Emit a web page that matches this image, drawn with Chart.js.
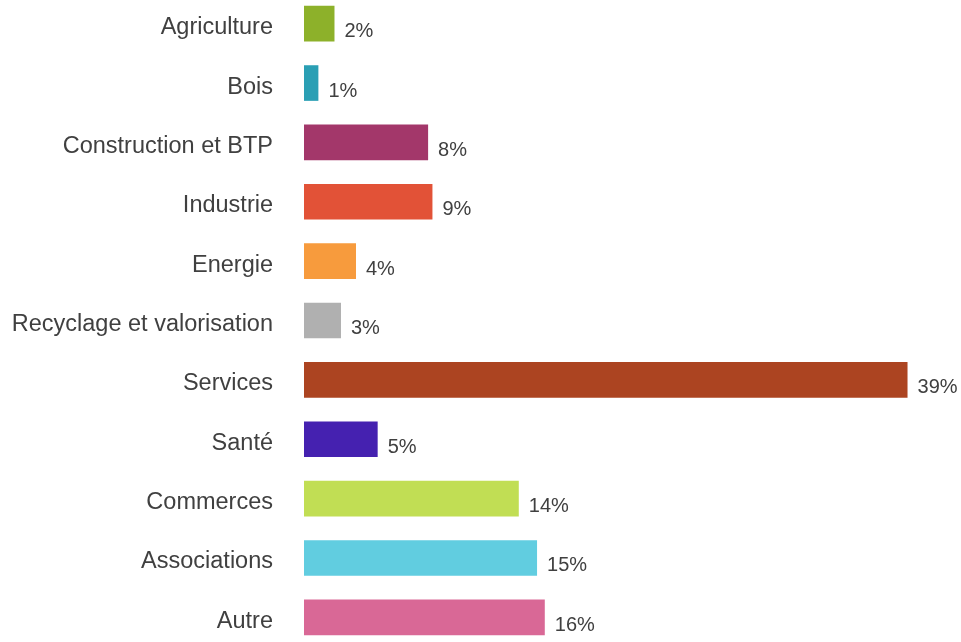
<!DOCTYPE html>
<html>
<head>
<meta charset="utf-8">
<script src="https://cdn.jsdelivr.net/npm/chart.js@4"></script>
<style>
  body { margin: 0; background: #fff; overflow: hidden; width: 961px; height: 642px; position: relative; }
  #grafico { position: absolute; left: 0; top: -6px; }
</style>
</head>
<body>
<canvas id="grafico" width="961" height="653"></canvas>
<script>
// Données du graphique
const categories = ['Agriculture', 'Bois', 'Construction et BTP', 'Industrie', 'Energie',
    'Recyclage et valorisation', 'Services', 'Santé', 'Commerces', 'Associations', 'Autre'];
const valeurs = [1.97, 0.93, 8.02, 8.3, 3.36, 2.39, 39, 4.76, 13.88, 15.06, 15.56]; // longueur des barres
const etiquettes = ['2%', '1%', '8%', '9%', '4%', '3%', '39%', '5%', '14%', '15%', '16%']; // texte affiché
const couleurs = ['#8db12a', '#2a9fb4', '#a3376a', '#e25237', '#f79b3d', '#b0b0b0',
    '#ac4421', '#4521b0', '#c1de54', '#61cde0', '#d96896'];

// Étiquettes de valeur à droite des barres
const valeursPlugin = {
    id: 'valeurs',
    afterDatasetsDraw(chart) {
        const c = chart.ctx;
        c.save();
        c.font = '20px "Liberation Sans", Arial, sans-serif';
        c.fillStyle = '#404040';
        c.textAlign = 'left';
        c.textBaseline = 'middle';
        chart.getDatasetMeta(0).data.forEach((bar, i) => {
            c.fillText(etiquettes[i], bar.x + 10, bar.y + 8);
        });
        c.restore();
    }
};

const ctx = document.getElementById('grafico').getContext('2d');
new Chart(ctx, {
    type: 'bar',
    data: {
        labels: categories,
        datasets: [{
            data: valeurs,
            backgroundColor: couleurs,
            borderWidth: 0,
            barPercentage: 0.6,
            categoryPercentage: 1
        }]
    },
    options: {
        indexAxis: 'y',
        responsive: false,
        animation: false,
        layout: { padding: { left: 0, right: 38, top: 0, bottom: 0 } },
        plugins: {
            legend: { display: false },
            tooltip: { enabled: false }
        },
        scales: {
            x: { display: false, min: 0, max: 40 },
            y: {
                grid: { display: false },
                border: { display: false },
                ticks: {
                    padding: 23,
                    labelOffset: 4,
                    color: '#404040',
                    font: { family: '"Liberation Sans", Arial, sans-serif', size: 23.5 }
                },
                afterFit(scale) {
                    scale.width = 304;
                    scale.paddingTop = 0;
                    scale.paddingBottom = 0;
                }
            }
        }
    },
    plugins: [valeursPlugin]
});
</script>
</body>
</html>
